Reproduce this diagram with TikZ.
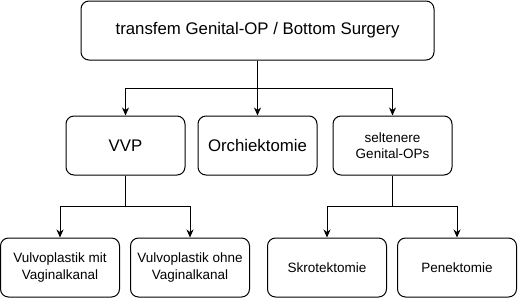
\documentclass[tikz,border=0pt]{standalone}
\usepackage{fontspec}
\setmainfont{Liberation Sans}
\usetikzlibrary{arrows.meta, positioning}

\begin{document}
\begin{tikzpicture}[x=1pt, y=-1pt,
    opbox/.style={rounded corners=8pt, minimum width=119pt, minimum height=59pt,
                 draw, line width=1pt, align=center, inner sep=2pt,
                 font=\fontsize{13.5}{16.5}\selectfont},
    bigop/.style={font=\fontsize{16.8}{19}\selectfont},
    branch/.style={-{Stealth[length=8pt, width=7pt, inset=2.5pt]}, line width=1pt},
  ]
    \useasboundingbox (0,0) rectangle (518,298);
    \node[opbox, bigop, minimum width=353pt] (gop) at (257.5,30.5) {transfem Genital-OP / Bottom Surgery};
    \node[opbox, bigop] (vvp) at (125.5,145.5) {VVP};
    \node[opbox, bigop] (orch) at (257.5,145.5) {Orchiektomie};
    \node[opbox] (selten) at (392.5,145.5) {seltenere\\Genital-OPs};
    \node[opbox] (vmit) at (60,267.5) {Vulvoplastik mit\\Vaginalkanal};
    \node[opbox] (vohne) at (190,267.5) {Vulvoplastik ohne\\Vaginalkanal};
    \node[opbox] (skrot) at (327,267.5) {Skrotektomie};
    \node[opbox] (penek) at (457,267.5) {Penektomie};
    \draw[branch] (gop.south) -- ++(0,28) -| (vvp.north);
    \draw[branch] (gop.south) -- (orch.north);
    \draw[branch] (gop.south) -- ++(0,28) -| (selten.north);
    \draw[branch] (vvp.south) -- ++(0,31) -| (vmit.north);
    \draw[branch] (vvp.south) -- ++(0,31) -| (vohne.north);
    \draw[branch] (selten.south) -- ++(0,31) -| (skrot.north);
    \draw[branch] (selten.south) -- ++(0,31) -| (penek.north);
\end{tikzpicture}
\end{document}
